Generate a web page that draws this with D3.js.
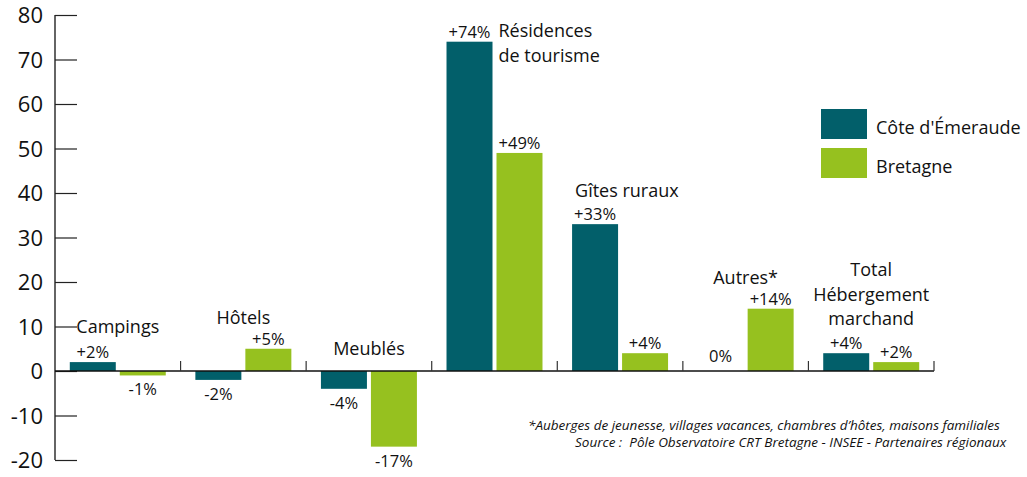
<!DOCTYPE html>
<html>
<head>
<meta charset="utf-8">
<script src="https://cdn.jsdelivr.net/npm/d3@7"></script>
<style>
  html, body { margin: 0; padding: 0; background: #fff; }
  svg { display: block; font-family: "Open Sans", "DejaVu Sans", sans-serif; }
</style>
</head>
<body>
<div id="chart"></div>
<script>
const categories = ["Campings", "Hôtels", "Meublés", "Résidences de tourisme", "Gîtes ruraux", "Autres*", "Total Hébergement marchand"];
const categoryLines = [["Campings"], ["Hôtels"], ["Meublés"], ["Résidences", "de tourisme"], ["Gîtes ruraux"], ["Autres*"], ["Total", "Hébergement", "marchand"]];
const seriesNames = ["Côte d'Émeraude", "Bretagne"];
const coteEmeraude = [2, -2, -4, 74, 33, 0, 4];
const bretagne = [-1, 5, -17, 49, 4, 14, 2];
const yTicks = [-20, -10, 0, 10, 20, 30, 40, 50, 60, 70, 80];
const footnotes = [
    "*Auberges de jeunesse, villages vacances, chambres d\u2019hôtes, maisons familiales",
    "Source :  Pôle Observatoire CRT Bretagne - INSEE - Partenaires régionaux"
];

const colors = ["#025f6a", "#96c11f"];

// where each category title sits (mode, vertical spot in px)
const labelLayout = [
    {mode: "center", y: 333},
    {mode: "center", y: 324},
    {mode: "center", y: 355},
    {mode: "rightOfBar", y: 37},
    {mode: "overBar", y: 197},
    {mode: "center", y: 284},
    {mode: "center", y: 276}
];

const paintChart = () => {
    const width = 1027, height = 477;
    const svg = d3.select("#chart").append("svg")
        .attr("width", width)
        .attr("height", height);

    const x0 = d3.scaleBand()
        .domain(categories)
        .range([55, 934])
        .padding(0);

    const x1 = d3.scaleBand()
        .domain(seriesNames)
        .range([0, x0.bandwidth()])
        .paddingInner(0.08)
        .paddingOuter(0.296);

    const y = d3.scaleLinear()
        .domain([-20, 80])
        .range([460, 15]);

    // y axis, ticks pointing inward
    const yAxis = d3.axisRight(y)
        .tickValues(yTicks)
        .tickSize(22)
        .tickFormat("");
    const ag = svg.append("g")
        .attr("transform", "translate(55,0)")
        .call(yAxis);
    ag.select(".domain").attr("stroke", "#111").attr("stroke-width", 1.3).attr("d", `M0,${y(80)}V${y(-20)}`);
    ag.selectAll(".tick line").attr("stroke", "#222").attr("stroke-width", 1.2);

    svg.append("g").selectAll("text")
        .data(yTicks)
        .enter().append("text")
        .attr("x", 43)
        .attr("y", d => y(d) + 8)
        .attr("text-anchor", "end")
        .attr("font-size", 22)
        .attr("fill", "#111")
        .text(d => d);

    const rows = categories.map((c, i) => ({cat: c, i: i, vals: [coteEmeraude[i], bretagne[i]]}));

    const groups = svg.append("g").selectAll("g")
        .data(rows)
        .enter().append("g")
        .attr("transform", d => `translate(${x0(d.cat)},0)`);

    groups.selectAll("rect")
        .data(d => d.vals.map((v, k) => ({s: seriesNames[k], v: v, k: k})))
        .enter().append("rect")
        .attr("x", d => x1(d.s))
        .attr("width", x1.bandwidth())
        .attr("y", d => y(Math.max(0, d.v)))
        .attr("height", d => Math.abs(y(d.v) - y(0)))
        .attr("fill", d => colors[d.k]);

    const fmt = v => (v > 0 ? "+" : "") + v + "%";
    groups.selectAll("text.val")
        .data(d => d.vals.map((v, k) => ({s: seriesNames[k], v: v, k: k})))
        .enter().append("text")
        .attr("class", "val")
        .attr("x", d => x1(d.s) + x1.bandwidth() / 2)
        .attr("y", d => d.v < 0 ? y(d.v) + 20 : y(d.v) - (d.v === 0 ? 9 : 4))
        .attr("text-anchor", "middle")
        .attr("font-size", 16.5)
        .attr("fill", "#111")
        .text(d => fmt(d.v));

    // category titles
    groups.each(function (d) {
        const lay = labelLayout[d.i];
        let xPos = x0.bandwidth() / 2, anchor = "middle";
        if (lay.mode === "rightOfBar") { xPos = x1(seriesNames[0]) + x1.bandwidth() + 6; anchor = "start"; }
        if (lay.mode === "overBar") { xPos = x1(seriesNames[0]) + 3; anchor = "start"; }
        const t = d3.select(this).append("text")
            .attr("text-anchor", anchor)
            .attr("font-size", 18)
            .attr("fill", "#111");
        categoryLines[d.i].forEach((line, j) => {
            t.append("tspan")
                .attr("x", xPos)
                .attr("y", lay.y + j * 24.5)
                .text(line);
        });
    });

    // zero line + category separators
    svg.append("line")
        .attr("x1", 55).attr("x2", 934)
        .attr("y1", y(0)).attr("y2", y(0))
        .attr("stroke", "#111").attr("stroke-width", 1.5);
    svg.append("g").selectAll("line")
        .data(categories)
        .enter().append("line")
        .attr("x1", d => x0(d) + x0.bandwidth())
        .attr("x2", d => x0(d) + x0.bandwidth())
        .attr("y1", y(0) - 10).attr("y2", y(0))
        .attr("stroke", "#333").attr("stroke-width", 1.2);

    // legend
    const legend = svg.append("g").selectAll("g")
        .data(seriesNames)
        .enter().append("g")
        .attr("transform", (d, i) => `translate(821,${109 + i * 39})`);
    legend.append("rect")
        .attr("width", 46).attr("height", 30)
        .attr("fill", (d, i) => colors[i]);
    legend.append("text")
        .attr("x", 55).attr("y", 25)
        .attr("font-size", 18)
        .attr("fill", "#111")
        .text(d => d);

    // footnotes
    svg.append("g").selectAll("text")
        .data(footnotes)
        .enter().append("text")
        .attr("x", (d, i) => i === 0 ? 528 : 575)
        .attr("y", (d, i) => 430 + i * 17)
        .attr("font-size", 13.5)
        .attr("font-style", "italic")
        .attr("fill", "#111")
        .style("white-space", "pre")
        .text(d => d);
};

document.addEventListener("DOMContentLoaded", paintChart);
</script>
</body>
</html>
